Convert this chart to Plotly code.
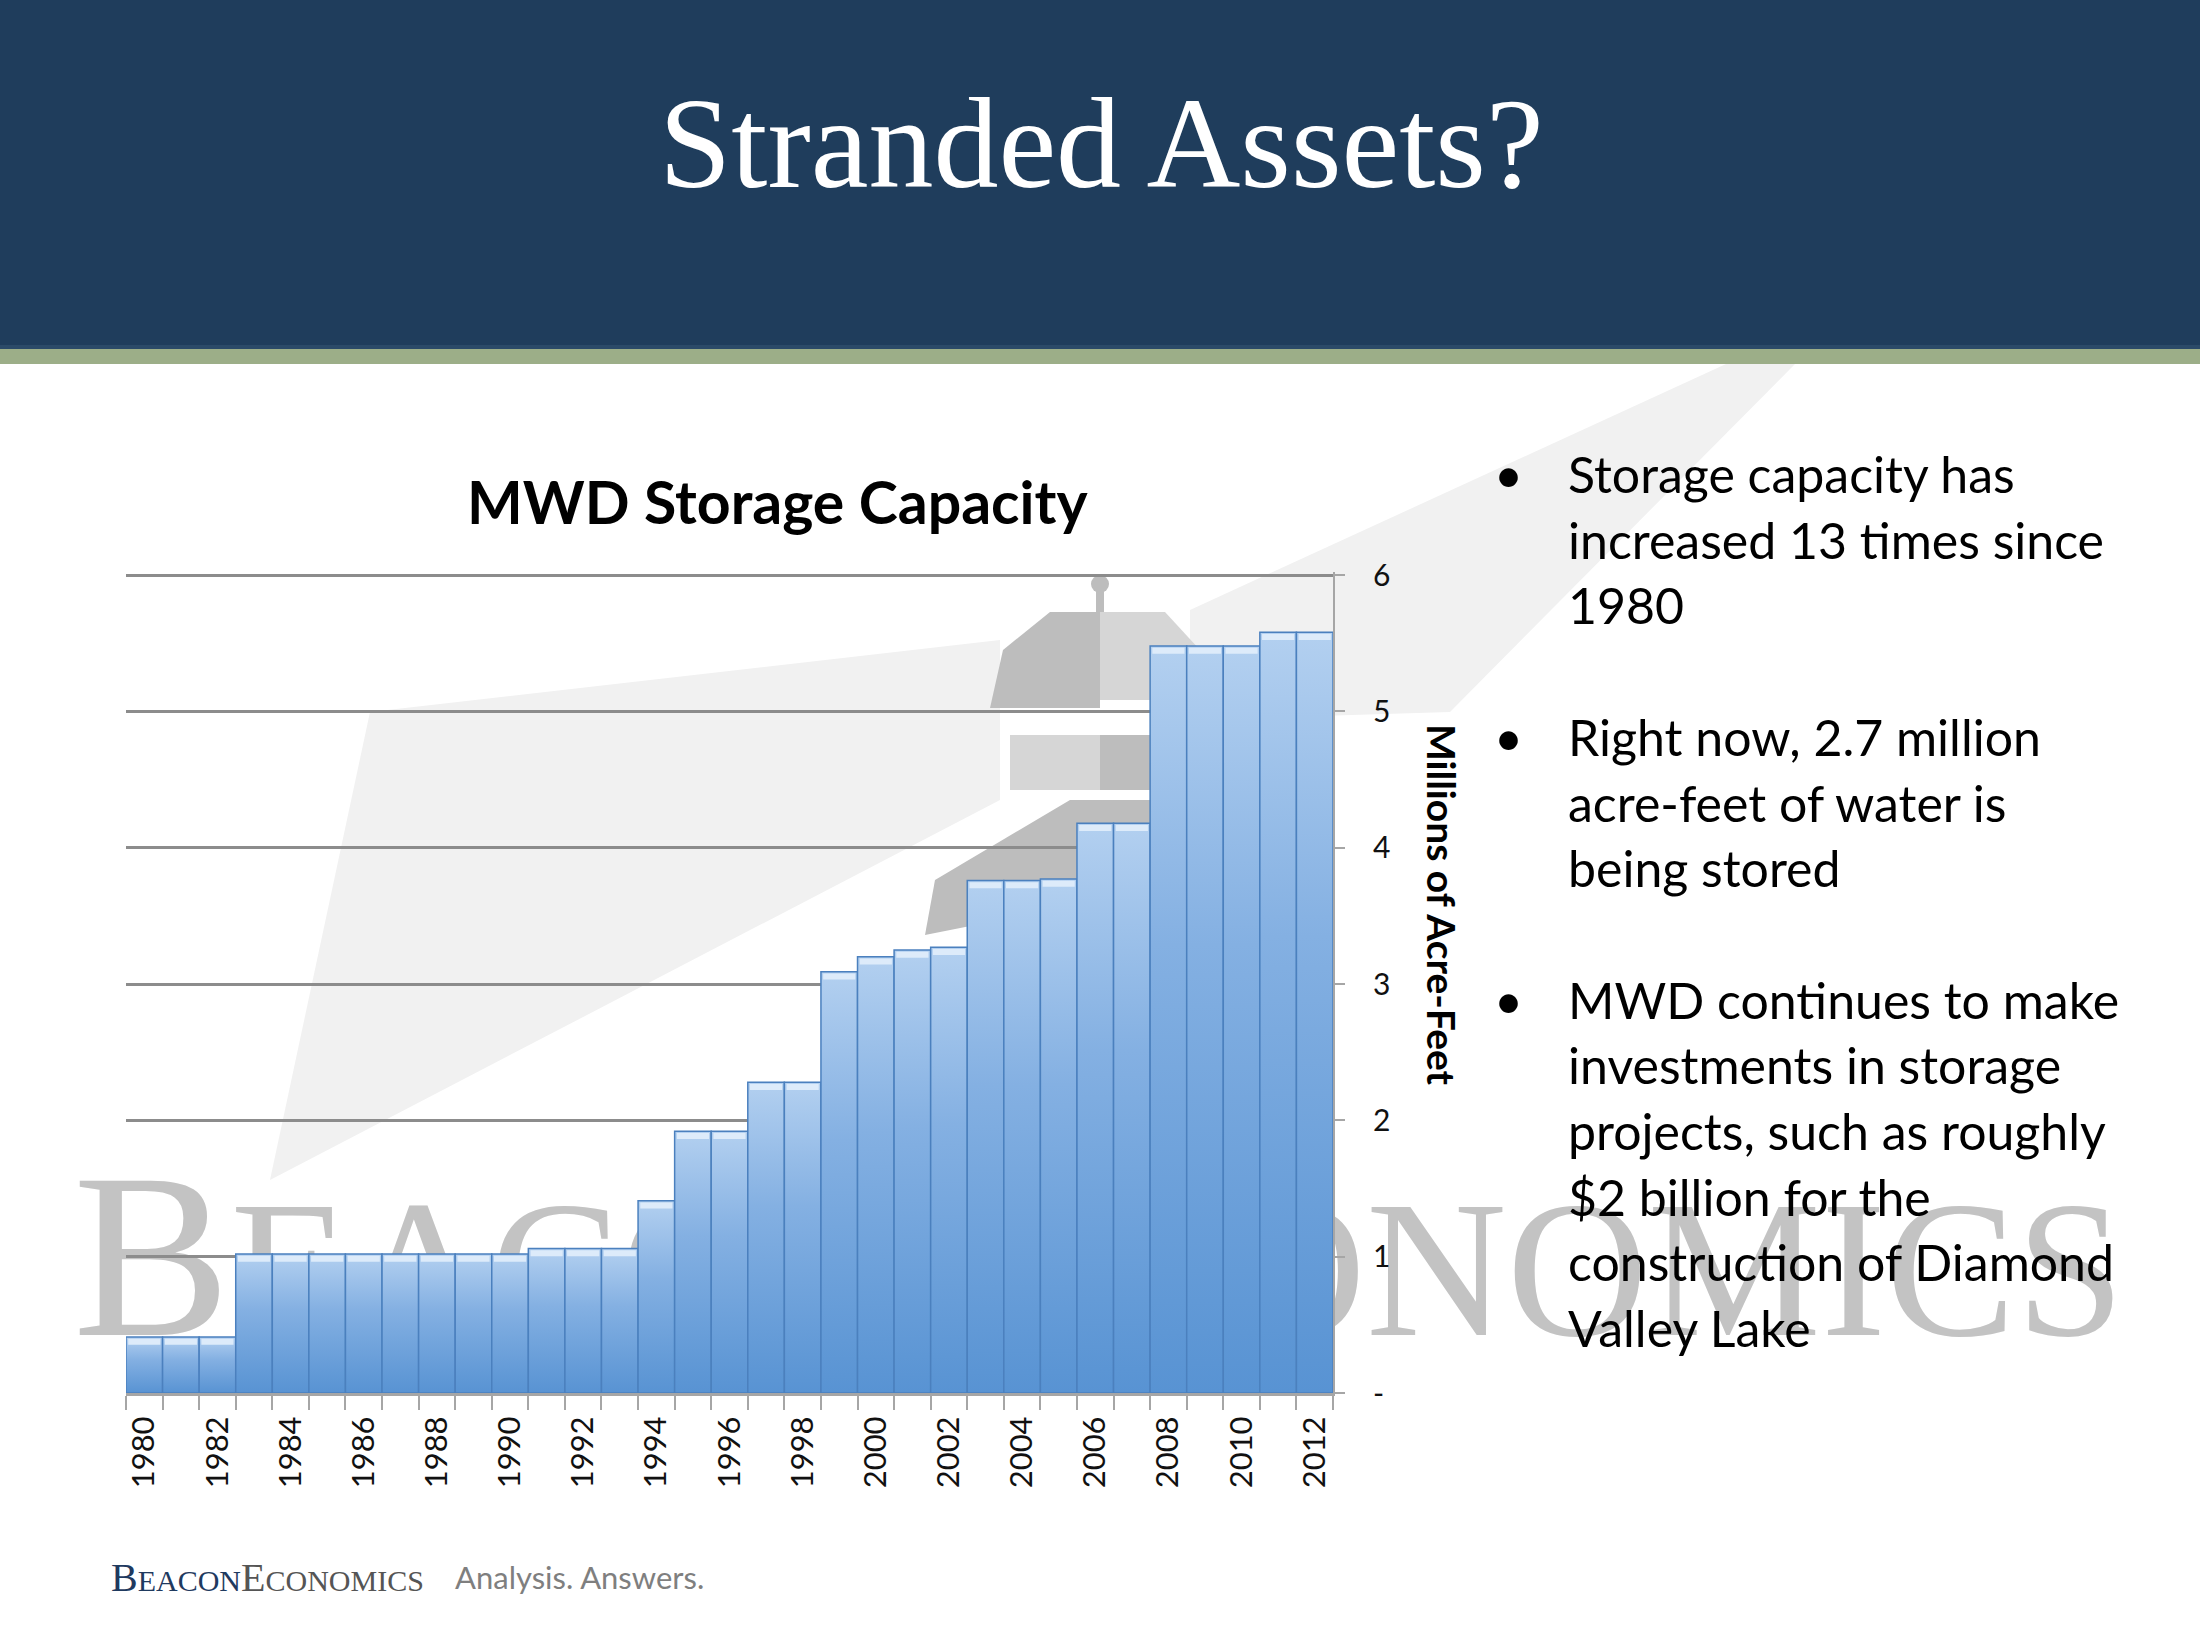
import plotly.graph_objects as go

W, H = 2200, 1650

YEARS = list(range(1980, 2013))
CAPACITY = [
    0.41, 0.41, 0.41,
    1.02, 1.02, 1.02, 1.02, 1.02, 1.02, 1.02, 1.02,
    1.06, 1.06, 1.06,
    1.41,
    1.92, 1.92,
    2.28, 2.28,
    3.09, 3.20, 3.25, 3.27,
    3.76, 3.76, 3.77,
    4.18, 4.18,
    5.48, 5.48, 5.48,
    5.58, 5.58,
]
Y_TICKS = [0, 1, 2, 3, 4, 5, 6]
Y_TICK_TEXT = ["-", "1", "2", "3", "4", "5", "6"]

BULLET_LINES = [
    "Storage capacity has", "increased 13 times since", "1980", "",
    "Right now, 2.7 million", "acre-feet of water is", "being stored", "",
    "MWD continues to make", "investments in storage",
    "projects, such as roughly", "$2 billion for the",
    "construction of Diamond", "Valley Lake",
]

# plot area in page pixels
PLOT_L, PLOT_R, PLOT_B = 126, 1333, 1393
PX_PER_UNIT = 136.33
Y_MAX = 6.02


def px(x):
    return x / W


def py(y):
    return 1 - y / H


def path(points):
    return "M " + " L ".join(f"{px(x)},{py(y)}" for x, y in points) + " Z"


fig = go.Figure()

# bars with a vertical gradient, one polygon per year
for yr, v in zip(YEARS, CAPACITY):
    fig.add_trace(go.Scatter(
        x=[yr - 0.5, yr - 0.5, yr + 0.5, yr + 0.5, yr - 0.5],
        y=[0, v, v, 0, 0],
        mode="lines",
        fill="toself",
        fillgradient=dict(type="vertical",
                          colorscale=[[0, "#5893D3"], [0.6, "#84B0E2"], [1, "#B3D0F0"]]),
        line=dict(color="#4B80BE", width=1.5),
        showlegend=False,
        hoverinfo="skip",
    ))

# light bevel along the top of each bar
hx, hy = [], []
for yr, v in zip(YEARS, CAPACITY):
    hx += [yr - 0.44, yr + 0.44, None]
    hy += [v - 0.035, v - 0.035, None]
fig.add_trace(go.Scatter(x=hx, y=hy, mode="lines",
                         line=dict(color="#DDEBFA", width=6),
                         showlegend=False, hoverinfo="skip"))

DARK, LIGHT, BEAM = "#BDBDBD", "#D6D6D6", "#F1F1F1"
shapes = [
    # header band and stripe
    dict(type="rect", x0=0, x1=1, y0=py(346), y1=1, fillcolor="#1F3D5C", line_width=0),
    dict(type="rect", x0=0, x1=1, y0=py(349), y1=py(345), fillcolor="#2B4A68", line_width=0),
    dict(type="rect", x0=0, x1=1, y0=py(364), y1=py(349), fillcolor="#9CAE88", line_width=0),
    # faint light beams
    dict(type="path", path=path([(1000, 640), (370, 712), (270, 1180), (1000, 800)]),
         fillcolor=BEAM, line_width=0),
    dict(type="path", path=path([(1190, 610), (1726, 364), (1795, 364), (1450, 712), (1190, 720)]),
         fillcolor=BEAM, line_width=0),
    # lighthouse
    dict(type="circle", x0=px(1091), x1=px(1109), y0=py(593), y1=py(575),
         fillcolor=DARK, line_width=0),
    dict(type="path", path=path([(1096, 592), (1104, 592), (1104, 612), (1096, 612)]),
         fillcolor=DARK, line_width=0),
    dict(type="path", path=path([(1050, 612), (1100, 612), (1100, 708), (990, 708), (1003, 650)]),
         fillcolor=DARK, line_width=0),
    dict(type="path", path=path([(1100, 612), (1165, 612), (1200, 650), (1215, 700), (1100, 700)]),
         fillcolor=LIGHT, line_width=0),
    dict(type="path", path=path([(1010, 735), (1100, 735), (1100, 790), (1010, 790)]),
         fillcolor=LIGHT, line_width=0),
    dict(type="path", path=path([(1100, 735), (1150, 735), (1150, 790), (1100, 790)]),
         fillcolor=DARK, line_width=0),
    dict(type="path", path=path([(1070, 800), (1200, 800), (1200, 880), (925, 935), (935, 880)]),
         fillcolor=DARK, line_width=0),
    # watermark text
    dict(type="rect", x0=px(70), x1=px(2190), y0=py(1420), y1=py(1120),
         fillcolor="rgba(0,0,0,0)", line_width=0,
         label=dict(
             text='<span style="font-size:236px">B</span>EACON '
                  '<span style="font-size:236px">E</span>CONOMICS',
             textposition="middle left", padding=0,
             font=dict(family="Liberation Serif", size=195, color="#C3C3C3"))),
]
for s in shapes:
    s.setdefault("xref", "paper")
    s.setdefault("yref", "paper")
    s["layer"] = "below"
    fig.add_shape(**s)

ann = [
    dict(text="Stranded Assets?", x=px(1101), y=py(143),
         font=dict(family="Liberation Serif", size=130, color="white")),
    dict(text="<b>MWD Storage Capacity</b>", x=px(777), y=py(501),
         font=dict(family="Lato", size=59, color="black")),
    dict(text="<b>Millions of Acre-Feet</b>", x=px(1442), y=py(905), textangle=90,
         font=dict(family="Lato", size=39, color="black")),
    dict(text='<span style="color:#1F3A5F"><span style="font-size:40px">B</span>EACON</span>'
              '<span style="color:#555555"><span style="font-size:40px">E</span>CONOMICS</span>',
         x=px(109), y=py(1577), xanchor="left",
         font=dict(family="Liberation Serif", size=30)),
    dict(text="Analysis. Answers.", x=px(453), y=py(1577), xanchor="left",
         font=dict(family="Lato", size=31, color="#7F7F7F")),
]

line_y0, line_step = 474, 65.7
for i, line in enumerate(BULLET_LINES):
    yc = line_y0 + i * line_step
    if not line:
        continue
    ann.append(dict(text=line, x=px(1566), y=py(yc), xanchor="left",
                    font=dict(family="Lato", size=50, color="black")))
    if i == 0 or BULLET_LINES[i - 1] == "":
        ann.append(dict(text="•", x=px(1508), y=py(yc),
                        font=dict(family="Lato", size=50, color="black")))

for a in ann:
    a.setdefault("xref", "paper")
    a.setdefault("yref", "paper")
    a.setdefault("xanchor", "center")
    a.setdefault("yanchor", "middle")
    a.setdefault("showarrow", False)
    fig.add_annotation(**a)

fig.update_layout(
    width=W, height=H,
    margin=dict(l=0, r=0, t=0, b=0, pad=0, autoexpand=False),
    paper_bgcolor="white",
    plot_bgcolor="rgba(0,0,0,0)",
    showlegend=False,
    xaxis=dict(
        domain=[px(PLOT_L), px(PLOT_R)],
        range=[1979.5, 2012.5],
        automargin=False,
        tickmode="array",
        tickvals=YEARS[::2],
        ticktext=[str(y) for y in YEARS[::2]],
        tickangle=-90,
        ticks="",
        ticklabelstandoff=8,
        tickfont=dict(family="Lato", size=31, color="#111111"),
        showgrid=False,
        zeroline=False,
        showline=True,
        linecolor="#A6A6A6",
        linewidth=3,
        minor=dict(tick0=1979.5, dtick=1, ticks="outside", ticklen=14,
                   tickcolor="#A6A6A6", tickwidth=2, showgrid=False),
        fixedrange=True,
    ),
    yaxis=dict(
        domain=[py(PLOT_B), py(PLOT_B - Y_MAX * PX_PER_UNIT)],
        range=[0, Y_MAX],
        automargin=False,
        side="right",
        tickmode="array",
        tickvals=Y_TICKS,
        ticktext=Y_TICK_TEXT,
        ticks="outside",
        ticklen=10,
        tickcolor="#A6A6A6",
        tickwidth=2,
        ticklabelstandoff=22,
        tickfont=dict(family="Lato", size=30, color="#111111"),
        showgrid=True,
        gridcolor="#8C8C8C",
        gridwidth=2.5,
        zeroline=False,
        showline=True,
        linecolor="#A6A6A6",
        linewidth=2,
        fixedrange=True,
    ),
)

fig.write_html("out.html", config={"displayModeBar": False},
               post_script="document.body.style.margin = '0';")
